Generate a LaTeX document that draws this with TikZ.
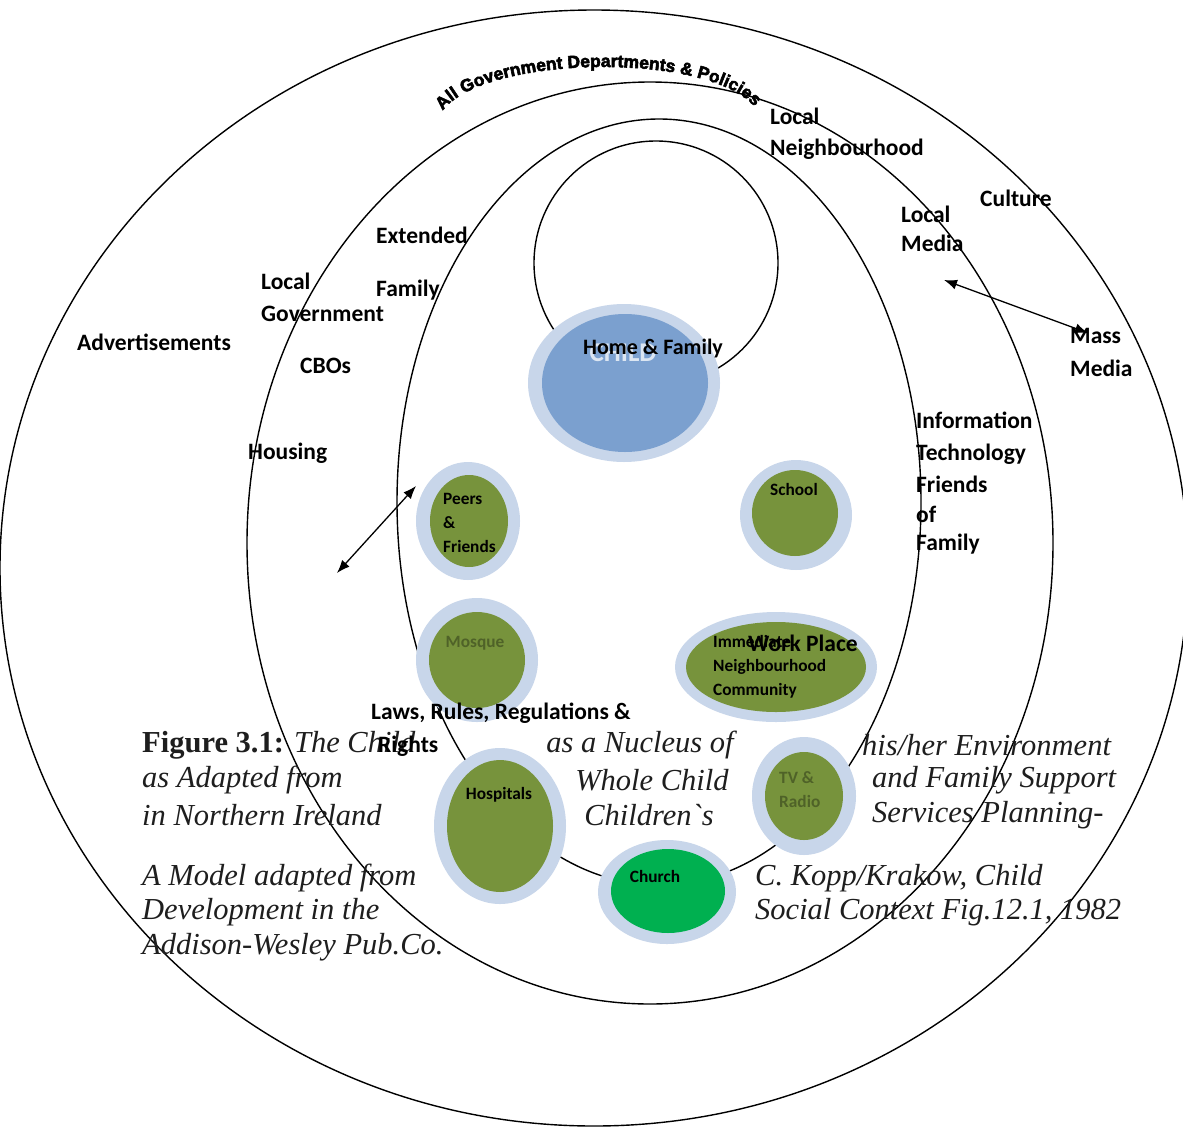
\documentclass[tikz,border=0pt]{standalone}
\usepackage{fontspec}
\setmainfont{Carlito}
\newfontfamily\capfont{Liberation Serif}
\newfontfamily\arcfont[BoldFeatures={FakeBold=3.2}]{Liberation Sans}
\usetikzlibrary{arrows.meta,decorations.text}
\definecolor{halo}{HTML}{C8D6EA}
\definecolor{childblue}{HTML}{7BA0CF}
\definecolor{olive}{HTML}{77933C}
\definecolor{darkolive}{HTML}{4F6228}
\definecolor{churchgreen}{HTML}{00B050}
\definecolor{childtxt}{HTML}{DCE6F2}
\definecolor{captxt}{HTML}{1E1E1E}
\begin{document}
\begin{tikzpicture}[x=1pt,y=-1pt,
  ring/.style={draw=black, line width=1.4pt},
  lbl/.style={font=\bfseries\fontsize{23.5}{31}\selectfont, inner sep=0pt, anchor=west, align=left},
  sml/.style={font=\bfseries\fontsize{17.3}{24}\selectfont, inner sep=0pt, align=left},
  captext/.style={font=\capfont\itshape\fontsize{30.5}{35}\selectfont, text=captxt, inner sep=0pt, anchor=west},
  captextc/.style={captext, anchor=center},
  dbl/.style={line width=1.3pt, {Latex[length=13pt,width=10pt]}-{Latex[length=13pt,width=10pt]}},
]
\fill[white] (0,0) rectangle (1183,1128);
\useasboundingbox (0,0) rectangle (1183,1128);

% rings
\draw[ring] (594,568) ellipse [x radius=594pt, y radius=558pt];
\draw[ring] (650,543) ellipse [x radius=403pt, y radius=461pt];
\draw[ring] (659,502) ellipse [x radius=262pt, y radius=383pt];
\draw[ring] (656,263) circle [radius=122pt];

% arc title
\coordinate (arcS) at (445,108);
\coordinate (arcC1) at (490,56);
\coordinate (arcC2) at (700,52);
\coordinate (arcE) at (752,104);
\path[decorate, decoration={text along path, text align=center,
  text={|\arcfont\bfseries\fontsize{17.5}{17.5}\selectfont|All Government Departments {\&} Policies}}]
  (arcS) .. controls (arcC1) and (arcC2) .. (arcE);

% child blob
\fill[halo] (624,383) ellipse [x radius=96pt, y radius=79pt];
\fill[childblue] (625,383) ellipse [x radius=83pt, y radius=69pt];
\node[font=\bfseries\fontsize{27}{27}\selectfont, text=childtxt, inner sep=0pt] (child) at (623,353) {CHILD};
\node[lbl, font=\bfseries\fontsize{22}{28}\selectfont] (home) at (583,349) {Home \& Family};

% satellites
\fill[halo] (468,521) ellipse [x radius=52pt, y radius=59pt];
\fill[olive] (469,521) ellipse [x radius=39pt, y radius=46pt];
\node[sml, anchor=west] (peers) at (443,523) {Peers\\\&\\Friends};

\fill[halo] (796,515) ellipse [x radius=56pt, y radius=55pt];
\fill[olive] (795,513) ellipse [x radius=43pt, y radius=43pt];
\node[sml] (school) at (794,489) {School};

\fill[halo] (477,660) ellipse [x radius=61pt, y radius=62pt];
\fill[olive] (477,660) ellipse [x radius=48pt, y radius=48pt];
\node[sml, text=darkolive] (mosque) at (475,643) {Mosque};

\fill[halo] (776,667) ellipse [x radius=101pt, y radius=55pt];
\fill[olive] (776,667) ellipse [x radius=90pt, y radius=45pt];
\node[sml, anchor=west] (immed) at (713,667) {Immediate\\Neighbourhood\\Community};
\node[lbl] (work) at (748,643) {Work Place};

\fill[halo] (804,796) ellipse [x radius=52pt, y radius=59pt];
\fill[olive] (804,796) ellipse [x radius=39pt, y radius=44pt];
\node[sml, anchor=west, text=darkolive] (tv) at (779,790) {TV \&\\Radio};

\fill[halo] (500,826) ellipse [x radius=66pt, y radius=78pt];
\fill[olive] (500,826) ellipse [x radius=53pt, y radius=66pt];
\node[sml] (hosp) at (499,795) {Hospitals};

\fill[halo] (667,892) ellipse [x radius=69pt, y radius=52pt];
\fill[churchgreen] (668,891) ellipse [x radius=57pt, y radius=42pt];
\node[sml] (church) at (655,876) {Church};

% arrows
\coordinate (la1) at (337,573);
\coordinate (la2) at (416,486);
\coordinate (ra1) at (944,280);
\coordinate (ra2) at (1088,333);
\draw[dbl] (la1) -- (la2);
\draw[dbl] (ra1) -- (ra2);

% ring labels
\node[lbl] (lneigh) at (770,134) {Local\\Neighbourhood};
\node[lbl] (culture) at (980,198) {Culture};
\node[lbl, font=\bfseries\fontsize{23.5}{29}\selectfont] (lmedia) at (901,229) {Local\\Media};
\node[lbl, font=\bfseries\fontsize{23.5}{33}\selectfont] (mmedia) at (1070,352) {Mass\\Media};
\node[lbl] (ext) at (376,235) {Extended};
\node[lbl] (fam) at (376,290) {Family};
\node[lbl, font=\bfseries\fontsize{23.5}{32}\selectfont] (lgov) at (261,297) {Local\\Government};
\node[lbl] (adv) at (77,342) {Advertisements};
\node[lbl] (cbo) at (300,366) {CBOs};
\node[lbl] (housing) at (248,453) {Housing};
\node[lbl] (info) at (916,420) {Information};
\node[lbl] (tech) at (916,454) {Technology};
\node[lbl] (friends) at (916,484) {Friends};
\node[lbl] (of) at (916,514) {of};
\node[lbl] (family2) at (916,544) {Family};
\node[lbl] (laws) at (371,713) {Laws, Rules, Regulations \&};

% caption
\node[captext] (c1) at (142,745) {{\upshape\bfseries Figure 3.1:} The Child};
\node[lbl] (rights) at (378,746) {Rights};
\node[captext] (c2) at (142,780) {as Adapted from};
\node[captext] (c3) at (142,815) {in Northern Ireland};
\node[captext] (c4) at (142,878) {A Model adapted from};
\node[captext] (c5) at (142,912) {Development in the};
\node[captext] (c6) at (142,947) {Addison-Wesley Pub.Co.};
\node[captextc] (m1) at (640,745) {as a Nucleus of};
\node[captextc] (m2) at (652,780) {Whole Child};
\node[captextc] (m3) at (649,815) {Children`s};
\node[captext] (r1) at (862,745) {his/her Environment};
\node[captext] (r2) at (872,780) {and Family Support};
\node[captext] (r3) at (872,815) {Services Planning-};
\node[captext] (r4) at (755,878) {C. Kopp/Krakow, Child};
\node[captext] (r5) at (755,912) {Social Context Fig.12.1, 1982};
\end{tikzpicture}
\end{document}
